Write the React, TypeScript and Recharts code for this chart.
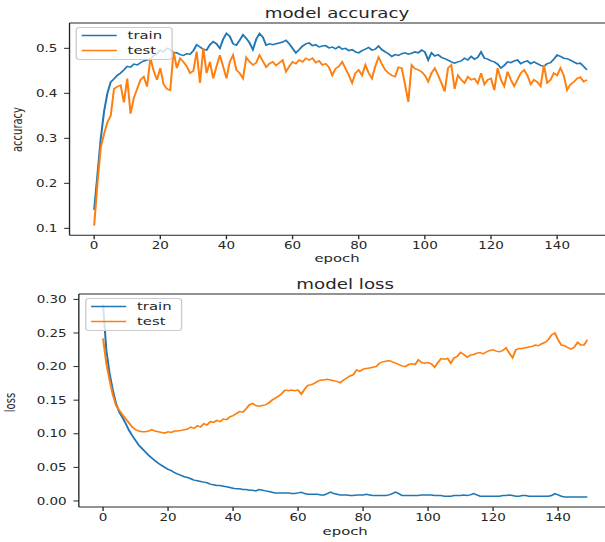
import React from 'react';
import { LineChart, Line, XAxis, YAxis, ReferenceLine, Legend } from 'recharts';

const S = 1.35;
const BLUE = '#1f77b4';
const ORANGE = '#ff7f0e';
const INK = '#262626';
const FONT = '"DejaVu Sans", Verdana, sans-serif';

const seriesNames = ['train', 'test'];
const epochTicks = [0, 20, 40, 60, 80, 100, 120, 140];
const accTicks = [0.1, 0.2, 0.3, 0.4, 0.5];
const lossTicks = [0, 0.05, 0.1, 0.15, 0.2, 0.25, 0.3];

const trainAcc = [
  0.141, 0.22, 0.30, 0.36, 0.40, 0.425, 0.432, 0.44, 0.445, 0.452,
  0.46, 0.458, 0.465, 0.463, 0.468, 0.472, 0.474, 0.476, 0.484, 0.488,
  0.496, 0.492, 0.5, 0.497, 0.49, 0.49, 0.486, 0.484, 0.488, 0.487,
  0.495, 0.508, 0.503, 0.498, 0.496, 0.508, 0.515, 0.51, 0.5, 0.52,
  0.533, 0.527, 0.51, 0.507, 0.518, 0.53, 0.522, 0.512, 0.497, 0.52,
  0.533, 0.525, 0.507, 0.51, 0.508, 0.51, 0.512, 0.514, 0.518, 0.51,
  0.5, 0.49, 0.497, 0.505, 0.51, 0.512, 0.506, 0.508, 0.503, 0.505,
  0.506, 0.501, 0.503, 0.499, 0.504, 0.498, 0.5, 0.495, 0.497, 0.492,
  0.49, 0.495, 0.498, 0.502, 0.496, 0.498, 0.505, 0.497, 0.492, 0.488,
  0.482, 0.486, 0.484, 0.488, 0.49, 0.487, 0.489, 0.492, 0.49, 0.496,
  0.492, 0.474, 0.49, 0.483, 0.486, 0.48, 0.477, 0.474, 0.47, 0.467,
  0.47, 0.472, 0.478, 0.474, 0.482, 0.476, 0.48, 0.492, 0.478, 0.476,
  0.472, 0.47, 0.465, 0.456, 0.462, 0.47, 0.468, 0.472, 0.474, 0.466,
  0.47, 0.472, 0.466, 0.47, 0.466, 0.462, 0.46, 0.466, 0.468, 0.476,
  0.485, 0.482, 0.478, 0.477, 0.474, 0.47, 0.466, 0.467, 0.46, 0.452,
];

const testAcc = [
  0.106, 0.20, 0.28, 0.31, 0.336, 0.35, 0.41, 0.415, 0.418, 0.38,
  0.433, 0.355, 0.39, 0.41, 0.43, 0.437, 0.415, 0.478, 0.45, 0.43,
  0.456, 0.42, 0.41, 0.407, 0.493, 0.456, 0.478, 0.47, 0.46, 0.445,
  0.45, 0.493, 0.423, 0.5, 0.445, 0.47, 0.433, 0.46, 0.485, 0.46,
  0.433, 0.47, 0.485, 0.452, 0.445, 0.433, 0.48, 0.47, 0.463, 0.468,
  0.485, 0.472, 0.458, 0.466, 0.47, 0.462, 0.468, 0.474, 0.448, 0.46,
  0.47, 0.466, 0.474, 0.47, 0.478, 0.474, 0.478, 0.468, 0.472, 0.463,
  0.466, 0.458, 0.44, 0.455, 0.46, 0.47, 0.455, 0.44, 0.423, 0.445,
  0.452, 0.44, 0.463, 0.445, 0.433, 0.46, 0.48, 0.465, 0.452, 0.445,
  0.44, 0.437, 0.458, 0.456, 0.42, 0.381, 0.463, 0.455, 0.452, 0.448,
  0.44, 0.426, 0.445, 0.456, 0.44, 0.423, 0.404, 0.456, 0.463, 0.41,
  0.44, 0.43, 0.423, 0.437, 0.43, 0.433, 0.422, 0.445, 0.42, 0.43,
  0.433, 0.407, 0.456, 0.43, 0.416, 0.448, 0.43, 0.416, 0.43, 0.445,
  0.452, 0.44, 0.42, 0.43, 0.425, 0.416, 0.463, 0.423, 0.43, 0.445,
  0.44, 0.456, 0.44, 0.407, 0.42, 0.425, 0.433, 0.436, 0.426, 0.43,
];

const trainLoss = [
  0.292, 0.225, 0.19, 0.165, 0.145, 0.132, 0.124, 0.115, 0.105, 0.097,
  0.09, 0.083, 0.078, 0.073, 0.068, 0.064, 0.06, 0.056, 0.053, 0.05,
  0.047, 0.045, 0.042, 0.04, 0.038, 0.036, 0.035, 0.033, 0.031, 0.03,
  0.029, 0.028, 0.027, 0.025, 0.024, 0.023, 0.023, 0.022, 0.021, 0.02,
  0.019, 0.018, 0.018, 0.017, 0.017, 0.016, 0.016, 0.015, 0.017, 0.016,
  0.015, 0.014, 0.013, 0.012, 0.012, 0.012, 0.012, 0.012, 0.011, 0.011,
  0.012, 0.013, 0.011, 0.01, 0.01, 0.01, 0.01, 0.009, 0.009, 0.011,
  0.013, 0.011, 0.01, 0.009, 0.009, 0.009, 0.008, 0.008, 0.009, 0.009,
  0.009, 0.01, 0.009, 0.008, 0.008, 0.008, 0.008, 0.008, 0.009, 0.011,
  0.013, 0.011, 0.008, 0.008, 0.008, 0.008, 0.008, 0.008, 0.009, 0.009,
  0.009, 0.009, 0.008, 0.008, 0.008, 0.007, 0.007, 0.007, 0.008, 0.008,
  0.008, 0.009, 0.008, 0.009, 0.011, 0.009, 0.007, 0.007, 0.007, 0.007,
  0.007, 0.007, 0.007, 0.008, 0.008, 0.009, 0.008, 0.007, 0.007, 0.008,
  0.008, 0.007, 0.007, 0.007, 0.007, 0.007, 0.007, 0.007, 0.008, 0.011,
  0.009, 0.007, 0.006, 0.006, 0.006, 0.006, 0.006, 0.006, 0.006, 0.006,
];

const testLoss = [
  0.242, 0.205, 0.18, 0.158, 0.142, 0.135, 0.128, 0.122, 0.116, 0.11,
  0.106, 0.104, 0.103, 0.103, 0.104, 0.106, 0.104, 0.103, 0.102, 0.101,
  0.103, 0.102, 0.104, 0.104, 0.105, 0.106, 0.107, 0.11, 0.108, 0.112,
  0.11, 0.115, 0.113, 0.118, 0.117, 0.12, 0.118, 0.122, 0.121, 0.125,
  0.127, 0.13, 0.133, 0.132, 0.137, 0.143, 0.145, 0.142, 0.141, 0.142,
  0.143, 0.146, 0.15, 0.153, 0.156, 0.16, 0.165, 0.164, 0.165, 0.164,
  0.165, 0.159, 0.166, 0.172, 0.173, 0.175, 0.178, 0.18, 0.18, 0.181,
  0.18, 0.179, 0.178, 0.176, 0.18, 0.183, 0.186, 0.188, 0.195, 0.193,
  0.196, 0.197, 0.198, 0.199, 0.2, 0.205, 0.207, 0.208, 0.209, 0.207,
  0.205, 0.203, 0.201, 0.2, 0.203, 0.204, 0.203, 0.21, 0.206, 0.205,
  0.206, 0.204, 0.199, 0.206, 0.212, 0.211, 0.212, 0.205, 0.213, 0.215,
  0.221, 0.218, 0.214, 0.217, 0.218, 0.22, 0.221, 0.219, 0.222, 0.224,
  0.225, 0.223, 0.222, 0.224, 0.228, 0.22, 0.213, 0.225, 0.227, 0.227,
  0.228, 0.229, 0.23, 0.232, 0.231, 0.234, 0.236, 0.24, 0.247, 0.25,
  0.24, 0.232, 0.231, 0.228, 0.226, 0.229, 0.236, 0.232, 0.232, 0.24,
];

const epochs = trainAcc.map((_, i) => i);
const accData = epochs.map((e, i) => ({ epoch: e, train: trainAcc[i], test: testAcc[i] }));
const lossData = epochs.map((e, i) => ({ epoch: e, train: trainLoss[i], test: testLoss[i] }));

const X_DOMAIN: [number, number] = [-7.45, 156.45];
const ACC_DOMAIN: [number, number] = [0.0845, 0.5565];
const LOSS_DOMAIN: [number, number] = [-0.009, 0.308];

const tickStyle = { fontSize: 10, fill: INK, fontFamily: FONT };

function LegendBox(props: any) {
  const payload = [...(props.payload || [])].sort(
    (a: any, b: any) => seriesNames.indexOf(String(a.value)) - seriesNames.indexOf(String(b.value))
  );
  return (
    <svg width={72} height={33} style={{ display: 'block', overflow: 'visible' }}>
      <rect x={0.5} y={0.5} width={71} height={32} rx={2.5} fill="#ffffff" fillOpacity={0.8} stroke="#cccccc" />
      {payload.map((p: any, i: number) => (
        <g key={String(p.value)}>
          <line x1={4.5} x2={30.5} y1={8.5 + 15 * i} y2={8.5 + 15 * i} stroke={p.color} strokeWidth={1.5} />
          <text x={38.5} y={12.5 + 15 * i} fontSize={11} fill={INK} fontFamily={FONT}>
            {p.value}
          </text>
        </g>
      ))}
    </svg>
  );
}

function YLabel(text: string, x: number, y: number) {
  return () => (
    <text
      x={x}
      y={y}
      transform={`rotate(-90 ${x} ${y})`}
      textAnchor="middle"
      fontSize={10}
      fill={INK}
      fontFamily={FONT}
    >
      {text}
    </text>
  );
}

export default function App() {
  return (
    <div
      style={{
        position: 'absolute',
        left: 0,
        top: 0,
        width: 605,
        height: 542,
        overflow: 'hidden',
        background: '#ffffff',
        fontFamily: FONT,
      }}
    >
      <div
        style={{
          position: 'absolute',
          left: 0,
          top: 0,
          width: 460,
          height: 542,
          transform: `scaleX(${S})`,
          transformOrigin: '0 0',
        }}
      >
        <div style={{ position: 'absolute', left: 0, top: 0 }}>
          <LineChart
            width={460}
            height={270}
            data={accData}
            margin={{ top: 22.9, right: 7, bottom: 4.7, left: 11.5 }}
          >
            <XAxis
              dataKey="epoch"
              type="number"
              domain={X_DOMAIN}
              ticks={epochTicks}
              allowDataOverflow
              height={30}
              tickSize={4}
              tickMargin={3}
              tick={tickStyle}
              stroke={INK}
              label={{ value: 'epoch', position: 'insideBottom', offset: 3, dx: -2.6, fontSize: 11, fill: INK, fontFamily: FONT }}
            />
            <YAxis
              type="number"
              domain={ACC_DOMAIN}
              ticks={accTicks}
              allowDataOverflow
              width={40}
              tickSize={4}
              tickMargin={5}
              tick={tickStyle}
              stroke={INK}
              tickFormatter={(v: number) => v.toFixed(1)}
              label={{ content: YLabel('accuracy', 16.3, 129.5) }}
            />
            <ReferenceLine
              y={ACC_DOMAIN[1]}
              stroke={INK}
              strokeWidth={1}
              label={{ value: 'model accuracy', position: 'top', offset: 5, dx: -2.6, fontSize: 13.5, fill: INK, fontFamily: FONT }}
            />
            <Line type="linear" dataKey="train" name="train" stroke={BLUE} strokeWidth={1.5} dot={false} isAnimationActive={false} />
            <Line type="linear" dataKey="test" name="test" stroke={ORANGE} strokeWidth={1.5} dot={false} isAnimationActive={false} />
            <Legend
              layout="horizontal"
              verticalAlign="middle"
              align="center"
              content={(p: any) => <LegendBox {...p} />}
              wrapperStyle={{ left: 56.3, top: 27, width: 72, height: 33 }}
            />
          </LineChart>
        </div>
        <div style={{ position: 'absolute', left: 0, top: 270 }}>
          <LineChart
            width={460}
            height={272}
            data={lossData}
            margin={{ top: 24, right: 7, bottom: 5, left: 18.4 }}
          >
            <XAxis
              dataKey="epoch"
              type="number"
              domain={X_DOMAIN}
              ticks={epochTicks}
              allowDataOverflow
              height={30}
              tickSize={4}
              tickMargin={3}
              tick={tickStyle}
              stroke={INK}
              label={{ value: 'epoch', position: 'insideBottom', offset: 2, fontSize: 11, fill: INK, fontFamily: FONT }}
            />
            <YAxis
              type="number"
              domain={LOSS_DOMAIN}
              ticks={lossTicks}
              allowDataOverflow
              width={40}
              tickSize={4}
              tickMargin={5}
              tick={tickStyle}
              stroke={INK}
              tickFormatter={(v: number) => v.toFixed(2)}
              label={{ content: YLabel('loss', 11.1, 132.5) }}
            />
            <ReferenceLine
              y={LOSS_DOMAIN[1]}
              stroke={INK}
              strokeWidth={1}
              label={{ value: 'model loss', position: 'top', offset: 5, fontSize: 13.5, fill: INK, fontFamily: FONT }}
            />
            <Line type="linear" dataKey="train" name="train" stroke={BLUE} strokeWidth={1.5} dot={false} isAnimationActive={false} />
            <Line type="linear" dataKey="test" name="test" stroke={ORANGE} strokeWidth={1.5} dot={false} isAnimationActive={false} />
            <Legend
              layout="horizontal"
              verticalAlign="middle"
              align="center"
              content={(p: any) => <LegendBox {...p} />}
              wrapperStyle={{ left: 63, top: 28, width: 72, height: 33 }}
            />
          </LineChart>
        </div>
      </div>
    </div>
  );
}
